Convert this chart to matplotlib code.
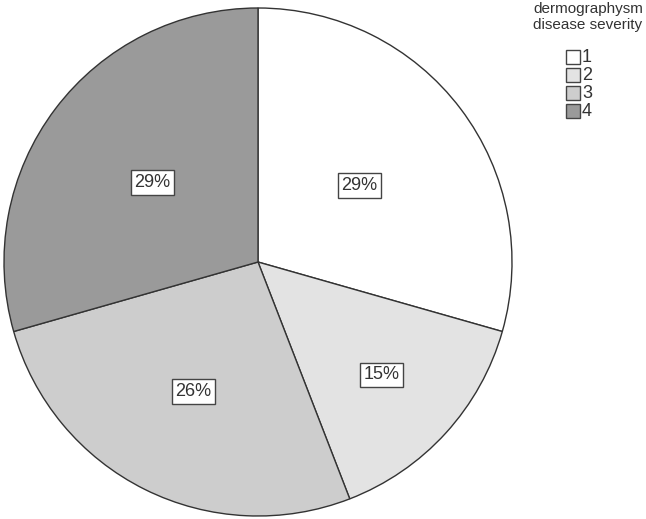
import matplotlib.pyplot as plt
from matplotlib.patches import Rectangle
import numpy as np

plt.rcParams['font.family'] = ['Liberation Sans', 'DejaVu Sans']

severity = ['1', '2', '3', '4']
counts = [10, 5, 9, 10]
colors = ['#ffffff', '#e3e3e3', '#cdcdcd', '#9a9a9a']
legend_title = 'dermographysm\ndisease severity'

# label distance from centre, as fraction of radius (per slice)
label_r = [0.50, 0.66, 0.57, 0.52]

W, H = 646, 519
fig = plt.figure(figsize=(W / 100, H / 100), dpi=100)
cx, cy, R = 258, 262, 254
ax = fig.add_axes([(cx - R) / W, (H - cy - R) / H, 2 * R / W, 2 * R / H])

wedges, _ = ax.pie(counts, colors=colors, startangle=90, counterclock=False,
                   wedgeprops=dict(edgecolor='#333333', linewidth=1))
for w in wedges:
    w.set_clip_on(False)
ax.set_xlim(-1, 1)
ax.set_ylim(-1, 1)
ax.set_aspect('equal')

total = sum(counts)
for w, c, r in zip(wedges, counts, label_r):
    ang = np.deg2rad((w.theta1 + w.theta2) / 2)
    ax.text(r * np.cos(ang), r * np.sin(ang), '%d%%' % round(100 * c / total),
            ha='center', va='center', fontsize=13, color='#333333',
            bbox=dict(boxstyle='square,pad=0.2', fc='white', ec='#444444', lw=1))

# legend
fig.text(588 / W, 1 - 2 / H, legend_title, ha='center', va='top',
         fontsize=11, color='#333333', linespacing=1.15)
for i, (lab, col) in enumerate(zip(severity, colors)):
    top = 50 + 18 * i
    fig.add_artist(Rectangle((566 / W, 1 - (top + 14) / H), 14 / W, 14 / H,
                             transform=fig.transFigure, fc=col, ec='#444444', lw=1))
    fig.text(582 / W, 1 - (top + 8) / H, lab, ha='left', va='center',
             fontsize=13, color='#333333')

fig.savefig('out.png', dpi=100)
